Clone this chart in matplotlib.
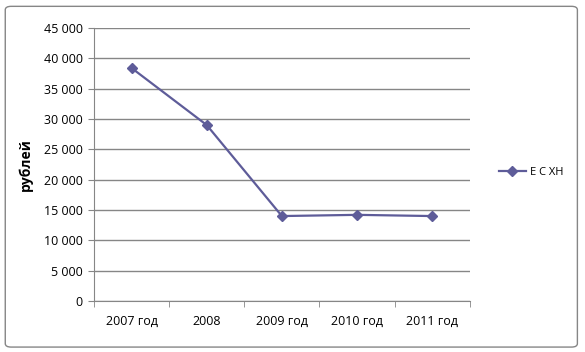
import matplotlib
matplotlib.use("Agg")
import matplotlib.pyplot as plt
from matplotlib.patches import FancyBboxPatch
from matplotlib.ticker import FuncFormatter

categories = ["2007 год", "2008", "2009 год", "2010 год", "2011 год"]
values = [38400, 29000, 14000, 14200, 14000]
series_name = "Е С ХН"
yticks = [0, 5000, 10000, 15000, 20000, 25000, 30000, 35000, 40000, 45000]

plt.rcParams['font.family'] = ['Open Sans', 'DejaVu Sans']

fig = plt.figure(figsize=(5.85, 3.52), dpi=100)
border = FancyBboxPatch((0.009, 0.014), 0.978, 0.968, boxstyle="round,pad=0,rounding_size=0.01",
                        transform=fig.transFigure, facecolor="none", edgecolor="#868686", lw=1,
                        zorder=10)
fig.patches.append(border)

ax = fig.add_axes([0.1607, 0.1449, 0.6423, 0.7756])
ax.patch.set_alpha(0)
x = list(range(len(categories)))
ax.plot(x, values, color="#5E5C99", lw=1.6, marker="D", markersize=5.5, label=series_name)
ax.set_xlim(-0.5, len(categories) - 0.5)
ax.set_ylim(0, 45000)
ax.set_yticks(yticks)
ax.yaxis.set_major_formatter(FuncFormatter(lambda v, p: f"{int(v):,}".replace(",", " ")))
ax.set_xticks(x)
ax.set_xticklabels(categories)
ax.set_xticks([i - 0.5 for i in range(len(categories) + 1)], minor=True)
ax.tick_params(axis="x", which="major", length=0, pad=10, labelsize=9)
ax.tick_params(axis="x", which="minor", length=4, color="#868686")
ax.tick_params(axis="y", length=4, color="#868686", labelsize=9, pad=4)
ax.grid(axis="y", color="#868686", lw=1)
ax.set_axisbelow(True)
for s in ["top", "right"]:
    ax.spines[s].set_visible(False)
for s in ["left", "bottom"]:
    ax.spines[s].set_color("#868686")
ax.set_ylabel("рублей", fontsize=10, fontweight="bold", labelpad=8)

ax.legend(loc="center left", bbox_to_anchor=(1.05, 0.47), frameon=False, fontsize=8,
          handlelength=2.5, handletextpad=0.3)

fig.savefig("out.png", dpi=100)
